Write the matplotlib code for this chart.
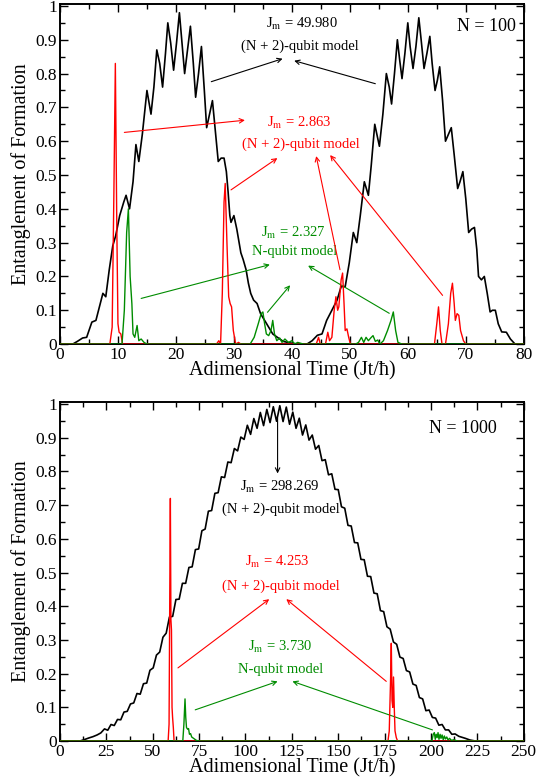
import matplotlib
matplotlib.use('Agg')
import matplotlib.pyplot as plt
from matplotlib.ticker import MultipleLocator, FormatStrFormatter

plt.rcParams['font.family'] = ['Liberation Serif', 'DejaVu Serif']
plt.rcParams['mathtext.fontset'] = 'stix'

BLACK = 'black'
RED = '#ff0000'
GREEN = '#008c00'

# ---------------- N = 100 panel ----------------
top_black_x = [0, 2.2, 3.0, 3.9, 4.6, 5.5, 6.2, 6.8, 7.4, 7.9, 8.5, 9.1, 9.6, 10.3, 11.0, 11.4, 12.0,
               12.6, 13.1, 13.6, 14.2, 15.0, 15.7, 16.2, 16.7, 17.2, 17.7, 18.2, 18.6, 19.1, 19.6,
               20.1, 20.6, 21.0, 21.5, 22.0, 22.5, 23.0, 23.4, 23.9, 24.4, 24.9, 25.3, 25.8, 26.3,
               26.8, 27.3, 27.8, 28.3, 28.7, 29.0, 29.3, 29.5, 30.0, 30.5, 31.2, 31.6, 32.1, 32.5,
               32.9, 33.4, 34.0, 34.6, 35.3, 36.0, 36.7, 37.5, 38.5, 39.8, 41.0,
               42.6, 43.5, 44.4, 45.2, 46.0, 46.9, 47.8, 48.5, 49.2, 49.9, 50.6, 51.2, 51.8, 52.5,
               53.2, 53.7, 54.3, 55.1, 55.7, 56.3, 56.8, 57.2, 57.7, 58.2, 58.6, 59.0, 59.5, 60.0,
               60.4, 60.9, 61.4, 61.9, 62.3, 62.8, 63.3, 63.8, 64.2, 64.7, 65.1, 65.5, 66.0, 66.5,
               67.0, 67.5, 68.0, 68.6, 69.0, 69.5, 70.0, 70.5, 71.0, 71.5, 71.9, 72.2, 72.7, 73.2,
               73.7, 74.2, 74.6, 75.1, 75.6, 76.2, 77.0, 77.7, 78.5, 80.0]
top_black_y = [0, 0, 0.008, 0.018, 0.02, 0.065, 0.07, 0.11, 0.15, 0.14, 0.22, 0.29, 0.32, 0.38, 0.42, 0.44, 0.40,
               0.48, 0.59, 0.54, 0.62, 0.75, 0.68, 0.76, 0.87, 0.83, 0.76, 0.86, 0.95, 0.89, 0.81,
               0.89, 0.98, 0.90, 0.80, 0.87, 0.94, 0.83, 0.73, 0.80, 0.88, 0.75, 0.64, 0.68, 0.72,
               0.63, 0.54, 0.55, 0.55, 0.51, 0.45, 0.38, 0.36, 0.38, 0.34, 0.27, 0.25, 0.22, 0.18,
               0.15, 0.13, 0.12, 0.09, 0.07, 0.05, 0.03, 0.02, 0.008, 0.003, 0,
               0.0, 0.01, 0.026, 0.03, 0.07, 0.10, 0.13, 0.17, 0.17, 0.24, 0.33, 0.30, 0.38, 0.48,
               0.44, 0.53, 0.65, 0.585, 0.68, 0.80, 0.76, 0.71, 0.80, 0.90, 0.84, 0.785, 0.86, 0.95,
               0.88, 0.815, 0.88, 0.965, 0.90, 0.815, 0.86, 0.91, 0.83, 0.75, 0.78, 0.82, 0.72, 0.60,
               0.62, 0.64, 0.56, 0.46, 0.48, 0.51, 0.43, 0.33, 0.34, 0.345, 0.28, 0.20, 0.19, 0.20,
               0.15, 0.095, 0.10, 0.10, 0.06, 0.036, 0.035, 0.015, 0.0, 0]

top_red_x = [0, 8.6, 9.0, 9.3, 9.55, 9.8, 10.0, 10.2, 10.5, 10.8, 27.0, 27.4, 27.7, 28.0, 28.3, 28.5,
             28.8, 29.1, 29.35, 29.6, 29.9, 30.3, 30.8, 31.2, 44.2, 44.6, 44.9, 45.8, 46.2, 46.5,
             46.9, 47.3, 47.6, 47.9, 48.1, 48.5, 48.75, 49.0, 49.2, 49.5, 49.8, 50.1, 64.6, 65.0,
             65.3, 65.6, 65.9, 66.5, 67.0, 67.4, 67.7, 68.0, 68.2, 68.5, 68.8, 69.1, 69.6, 70.0, 80]
top_red_y = [0, 0, 0.05, 0.45, 0.83, 0.35, 0.06, 0.035, 0.03, 0, 0, 0.01, 0, 0.15, 0.42, 0.475,
             0.30, 0.14, 0.12, 0.11, 0.04, 0.0, 0.005, 0, 0, 0.02, 0, 0, 0.035, 0.01,
             0.02, 0.10, 0.14, 0.10, 0.11, 0.19, 0.21, 0.12, 0.04, 0.045, 0.02, 0.0, 0, 0.06,
             0.11, 0.04, 0, 0.0, 0.06, 0.15, 0.18, 0.12, 0.07, 0.09, 0.085, 0.04, 0.01, 0.0, 0]

top_green_x = [0, 10.7, 11.1, 11.5, 11.8, 12.1, 12.4, 12.6, 12.9, 13.3, 13.6, 14.0, 14.5, 15.0,
               32.8, 33.5, 34.2, 34.7, 35.0, 35.3, 35.6, 36.0, 36.4, 36.7, 37.0, 37.4, 37.9, 38.3,
               38.8, 39.4, 40.0, 40.5, 41.0, 42.0, 51.0, 51.5, 52.0, 52.4, 52.8, 53.2, 53.6, 54.0,
               54.4, 54.8, 55.2, 55.8, 56.5, 57.1, 57.5, 57.9, 58.3, 59.0, 80]
top_green_y = [0, 0, 0.10, 0.33, 0.40, 0.20, 0.12, 0.03, 0.02, 0.055, 0.01, 0.015, 0.005, 0,
               0, 0.02, 0.06, 0.09, 0.095, 0.06, 0.03, 0.025, 0.04, 0.07, 0.03, 0.01, 0.018, 0.005,
               0.015, 0.005, 0.01, 0.0, 0.005, 0, 0, 0.005, 0.02, 0.005, 0.02, 0.01, 0.018, 0.025,
               0.008, 0.012, 0.0, 0.01, 0.04, 0.07, 0.095, 0.04, 0.005, 0.0, 0]

# ---------------- N = 1000 panel ----------------
bot_black_x = [0, 10.7, 13.0, 15.5, 17.8, 20.0, 22.0,
               24.0, 25.75, 27.5, 29.25, 31.0, 32.75, 34.5, 36.25, 38.0, 39.75, 41.5, 43.25, 45.0,
               46.75, 48.5, 50.25, 52.0, 53.75, 55.5, 57.25, 59.0, 60.75, 62.5, 64.25, 66.0, 67.75,
               69.5, 71.25, 73.0, 74.75, 76.5, 78.25, 80.0, 81.75, 83.5, 85.25, 87.0, 88.75, 90.5,
               92.25, 94.0, 95.75, 97.5, 99.25, 101.0, 102.75, 104.5, 106.25, 108.0, 109.75, 111.5,
               113.25, 115.0, 116.75, 118.5, 120.25, 122.0, 123.75, 125.5, 127.25, 129.0, 130.75,
               132.5, 134.25, 136.0, 137.75, 139.5, 141.25, 143.0, 144.75, 146.5, 148.25, 150.0,
               151.75, 153.5, 155.25, 157.0, 158.75, 160.5, 162.25, 164.0, 165.75, 167.5, 169.25,
               171.0, 172.75, 174.5, 176.25, 178.0, 179.75, 181.5, 183.25, 185.0, 186.75, 188.5,
               190.25, 192.0, 193.75, 195.5, 197.25, 199.0, 200.75, 202.5, 204.25, 206.0, 207.75,
               209.5, 211.25, 213.0, 215.0, 218.5, 221.0, 224.0, 250.0]
bot_black_y = [0, 0, 0.004, 0.009, 0.013, 0.018, 0.024,
               0.036, 0.032, 0.049, 0.046, 0.064, 0.063, 0.086, 0.088, 0.110, 0.113, 0.141, 0.139, 0.170,
               0.172, 0.210, 0.217, 0.255, 0.264, 0.308, 0.320, 0.368, 0.370, 0.420, 0.421, 0.468, 0.468,
               0.515, 0.517, 0.568, 0.570, 0.624, 0.629, 0.682, 0.684, 0.735, 0.737, 0.784, 0.782, 0.828,
               0.826, 0.868, 0.861, 0.902, 0.895, 0.937, 0.910, 0.957, 0.928, 0.975, 0.936, 0.984,
               0.945, 0.992, 0.949, 0.995, 0.948, 0.991, 0.940, 0.976, 0.928, 0.958, 0.908,
               0.938, 0.893, 0.908, 0.866, 0.877, 0.832, 0.835, 0.790, 0.793, 0.747, 0.746,
               0.695, 0.691, 0.640, 0.638, 0.589, 0.588, 0.539, 0.538, 0.489, 0.488, 0.439,
               0.437, 0.387, 0.384, 0.339, 0.332, 0.294, 0.287, 0.249, 0.245, 0.209, 0.205,
               0.169, 0.165, 0.129, 0.125, 0.090, 0.092, 0.070, 0.068, 0.047, 0.049, 0.033,
               0.033, 0.020, 0.021, 0.014, 0.008, 0.003, 0, 0]

bot_red_x = [0, 58.3, 58.8, 59.2, 59.5, 59.8, 60.1, 60.4, 60.7, 61.1, 61.5, 176.8, 177.5, 178.2,
             178.6, 179.0, 179.4, 179.8, 180.2, 180.6, 181.3, 182.0, 250]
bot_red_y = [0, 0, 0.05, 0.45, 0.72, 0.36, 0.33, 0.10, 0.07, 0.04, 0.0, 0, 0.03, 0.18,
             0.29, 0.12, 0.10, 0.19, 0.10, 0.03, 0.01, 0, 0]

bot_green_x = [0, 66.2, 66.8, 67.4, 67.8, 68.2, 68.8, 69.3, 69.8, 70.4, 71.0, 72.0, 73.5, 75.0,
               200.5, 201.2, 201.8, 202.3, 202.8, 203.3, 203.8, 204.3, 204.9, 205.4, 206.0, 206.6,
               207.2, 207.8, 208.5, 209.2, 210.0, 211.0, 212.5, 214.0, 250]
bot_green_y = [0, 0, 0.05, 0.125, 0.07, 0.04, 0.035, 0.037, 0.02, 0.022, 0.012, 0.008, 0.002, 0,
               0, 0.02, 0.025, 0.005, 0.02, 0.01, 0.025, 0.005, 0.02, 0.008, 0.018, 0.004,
               0.015, 0.006, 0.012, 0.003, 0.008, 0.002, 0.004, 0, 0]

fig = plt.figure(figsize=(5.38, 7.82), dpi=100)
ax1 = fig.add_axes([0.1115, 0.560, 0.862, 0.435])
ax2 = fig.add_axes([0.1115, 0.0524, 0.862, 0.4335])


def style(ax, xmax, xmajor, xminor):
    ax.set_xlim(0, xmax)
    ax.set_ylim(0, 1.006)
    ax.xaxis.set_major_locator(MultipleLocator(xmajor))
    ax.xaxis.set_minor_locator(MultipleLocator(xminor))
    ax.yaxis.set_major_locator(MultipleLocator(0.1))
    ax.yaxis.set_minor_locator(MultipleLocator(0.05))
    ax.yaxis.set_major_formatter(FormatStrFormatter('%g'))
    ax.tick_params(which='both', direction='in', top=True, right=True, labelsize=12.5, pad=2)
    ax.tick_params(which='major', length=6, width=1)
    ax.tick_params(which='minor', length=3.5, width=1)
    for s in ax.spines.values():
        s.set_linewidth(1.4)
    ax.set_xlabel('Adimensional Time (Jt/ħ)', fontsize=14.5, labelpad=-1)
    ax.set_ylabel('Entanglement of Formation', fontsize=14.5, labelpad=3)


def arrow(ax, tail, head, color):
    ax.annotate('', xy=head, xytext=tail,
                arrowprops=dict(arrowstyle='->', color=color, lw=0.8,
                                shrinkA=0, shrinkB=0, mutation_scale=8))


ax1.plot(top_black_x, top_black_y, color=BLACK, lw=1.2, zorder=3, solid_joinstyle='round')
ax1.plot(top_red_x, top_red_y, color=RED, lw=1.0, zorder=4)
ax1.plot(top_green_x, top_green_y, color=GREEN, lw=1.0, zorder=5)
style(ax1, 80, 10, 5)

ax1.text(41.8, 0.947, r'J$_{\rm m}$ = 49.980', ha='center', va='center', fontsize=10.5, color=BLACK)
ax1.text(41.4, 0.882, '(N + 2)-qubit model', ha='center', va='center', fontsize=10.5, color=BLACK)
ax1.text(41.2, 0.653, r'J$_{\rm m}$ = 2.863', ha='center', va='center', fontsize=10.5, color=RED)
ax1.text(41.6, 0.590, '(N + 2)-qubit model', ha='center', va='center', fontsize=10.5, color=RED)
ax1.text(40.2, 0.330, r'J$_{\rm m}$ = 2.327', ha='center', va='center', fontsize=10.5, color=GREEN)
ax1.text(40.4, 0.275, 'N-qubit model', ha='center', va='center', fontsize=10.5, color=GREEN)
ax1.text(78.6, 0.938, 'N = 100', ha='right', va='center', fontsize=13)

arrow(ax1, (26.1, 0.776), (38.4, 0.844), BLACK)
arrow(ax1, (54.4, 0.770), (40.4, 0.838), BLACK)
arrow(ax1, (11.1, 0.626), (31.9, 0.662), RED)
arrow(ax1, (29.5, 0.456), (37.5, 0.550), RED)
arrow(ax1, (48.3, 0.220), (44.2, 0.556), RED)
arrow(ax1, (66.0, 0.144), (46.6, 0.559), RED)
arrow(ax1, (14.0, 0.135), (36.2, 0.235), GREEN)
arrow(ax1, (35.8, 0.094), (39.7, 0.174), GREEN)
arrow(ax1, (56.8, 0.091), (42.8, 0.232), GREEN)

ax2.plot(bot_black_x, bot_black_y, color=BLACK, lw=1.2, zorder=3, solid_joinstyle='round')
ax2.plot(bot_red_x, bot_red_y, color=RED, lw=1.0, zorder=4)
ax2.plot(bot_green_x, bot_green_y, color=GREEN, lw=1.0, zorder=5)
style(ax2, 250, 25, 12.5)

ax2.text(118.5, 0.753, r'J$_{\rm m}$ = 298.269', ha='center', va='center', fontsize=10.5, color=BLACK)
ax2.text(119.0, 0.687, '(N + 2)-qubit model', ha='center', va='center', fontsize=10.5, color=BLACK)
ax2.text(117.3, 0.531, r'J$_{\rm m}$ = 4.253', ha='center', va='center', fontsize=10.5, color=RED)
ax2.text(119.3, 0.460, '(N + 2)-qubit model', ha='center', va='center', fontsize=10.5, color=RED)
ax2.text(118.9, 0.278, r'J$_{\rm m}$ = 3.730', ha='center', va='center', fontsize=10.5, color=GREEN)
ax2.text(118.9, 0.212, 'N-qubit model', ha='center', va='center', fontsize=10.5, color=GREEN)
ax2.text(235.5, 0.928, 'N = 1000', ha='right', va='center', fontsize=13)

arrow(ax2, (117.3, 0.958), (117.3, 0.794), BLACK)
arrow(ax2, (63.6, 0.217), (112.8, 0.421), RED)
arrow(ax2, (175.9, 0.177), (122.0, 0.421), RED)
arrow(ax2, (72.9, 0.0925), (117.3, 0.177), GREEN)
arrow(ax2, (200.8, 0.033), (125.3, 0.177), GREEN)

fig.savefig('out.png', dpi=100)
